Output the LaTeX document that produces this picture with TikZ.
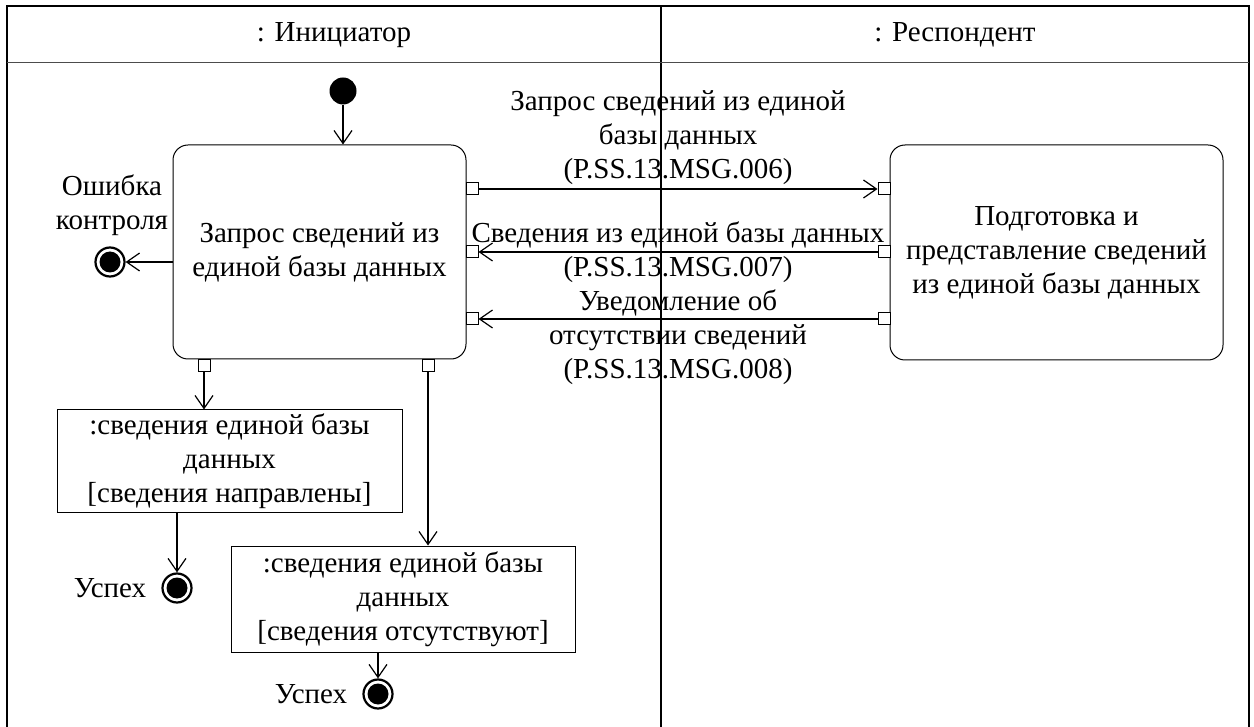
\documentclass[tikz,border=0pt]{standalone}
\usepackage{fontspec}
\setmainfont{Liberation Serif}
\usetikzlibrary{positioning}
\usetikzlibrary{arrows.meta}

\tikzset{
  act/.style={draw, rounded corners=15pt, line width=1pt, align=center, inner sep=0pt},
  obj/.style={draw, line width=1pt, align=center, inner sep=0pt},
  pin/.style={draw, fill=white, line width=1pt, minimum size=12pt, inner sep=0pt},
  flow/.style={line width=1.2pt, -{Straight Barb[length=13pt,width=18pt,line width=1.2pt]}},
  startnode/.style={circle, fill=black, minimum size=27pt, inner sep=0pt},
  endnode/.style={circle, draw, line width=2.2pt, minimum size=29pt, inner sep=0pt,
    path picture={\fill (path picture bounding box.center) circle (10.5pt);}},
  lbl/.style={align=center, inner sep=0pt},
}

\begin{document}
\begin{tikzpicture}[x=1pt, y=-1pt, every node/.append style={font=\fontsize{29}{34}\selectfont}]
    \useasboundingbox (0,0) rectangle (1254,727);
    \draw[line width=1.6pt] (7,727) -- (7,6) -- (1249,6) -- (1249,727);
    \draw[line width=1.6pt] (661,6) -- (661,727);
    \draw[line width=1pt, black!70] (7,63) -- (1249,63);
    \node (ini) at (334,35) {: Инициатор};
    \node (resp) at (955,35) {: Респондент};

    \node[act, minimum width=293pt, minimum height=214pt] (req) at (319.5,252)
        {Запрос сведений из\\единой базы данных};
    \node[act, minimum width=333pt, minimum height=215pt] (prep) at (1056.5,252.5)
        {Подготовка и\\представление сведений\\из единой базы данных};

    \foreach \y/\n in {189/1,252/2,319/3}
        {\node[pin] (a\n) at (472,\y) {};
         \node[pin] (b\n) at (884,\y) {};}
    \draw[flow] (a1) -- (b1);
    \draw[flow] (b2) -- (a2);
    \draw[flow] (b3) -- (a3);

    \node[lbl] (m1) at (678,138) {Запрос сведений из единой\\базы данных\\(P.SS.13.MSG.006)};
    \node[lbl] (m2) at (678,252) {Сведения из единой базы данных\\(P.SS.13.MSG.007)};
    \node[lbl] (m3) at (678,337) {Уведомление об\\отсутствии сведений\\(P.SS.13.MSG.008)};

    \node[startnode] (st) at (343,91) {};
    \draw[flow] (st) -- (st |- req.north);

    \node[endnode] (ferr) at (110,262) {};
    \draw[flow] (req.west |- ferr) -- (ferr);
    \node[lbl] (errlbl) at (112,205) {Ошибка\\контроля};

    \node[pin] (c1) at (204,366) {};
    \node[pin] (c2) at (428,366) {};

    \node[obj, minimum width=345pt, minimum height=102pt] (o1) at (229.5,461)
        {:сведения единой базы\\данных\\{[}сведения направлены]};
    \node[obj, minimum width=344pt, minimum height=106pt] (o2) at (403,599)
        {:сведения единой базы\\данных\\{[}сведения отсутствуют]};
    \draw[flow] (c1) -- (c1 |- o1.north);
    \draw[flow] (c2) -- (c2 |- o2.north);

    \node[endnode] (f1) at (177,588) {};
    \node[endnode] (f2) at (378,694) {};
    \draw[flow] (o1.south -| f1) -- (f1);
    \draw[flow] (o2.south -| f2) -- (f2);
    \node (u1) [left=15pt of f1, inner sep=0pt] {Успех};
    \node (u2) [left=15pt of f2, inner sep=0pt] {Успех};
\end{tikzpicture}
\end{document}
